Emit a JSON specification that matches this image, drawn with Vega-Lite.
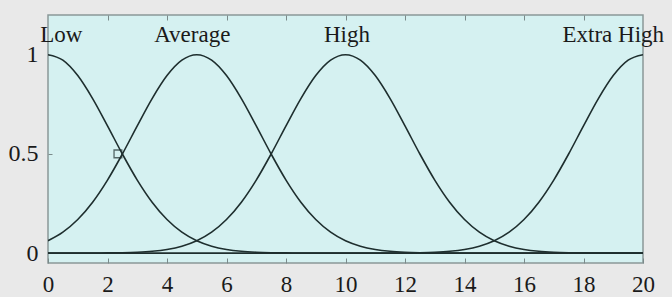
{
  "$schema": "https://vega.github.io/schema/vega-lite/v6.json",
  "width": 595,
  "height": 248,
  "autosize": {"type": "none"},
  "padding": {"left": 48, "top": 15, "right": 29, "bottom": 34},
  "background": "#e9e9e9",
  "config": {
    "view": {"fill": "#d5f1f1", "stroke": "#8a9898", "strokeWidth": 1.5},
    "font": "Liberation Serif"
  },
  "datasets": {
    "mf": [
      {"x": 0, "y": 1, "mf": "Low"}, {"x": 0.5, "y": 0.9726, "mf": "Low"}, {"x": 1, "y": 0.8948, "mf": "Low"}, {"x": 1.5, "y": 0.7788, "mf": "Low"}, {"x": 2, "y": 0.6412, "mf": "Low"}, {"x": 2.5, "y": 0.4994, "mf": "Low"}, {"x": 3, "y": 0.3679, "mf": "Low"}, {"x": 3.5, "y": 0.2564, "mf": "Low"}, {"x": 4, "y": 0.169, "mf": "Low"}, {"x": 4.5, "y": 0.1054, "mf": "Low"}, {"x": 5, "y": 0.0622, "mf": "Low"}, {"x": 5.5, "y": 0.0347, "mf": "Low"}, {"x": 6, "y": 0.0183, "mf": "Low"}, {"x": 6.5, "y": 0.0091, "mf": "Low"}, {"x": 7, "y": 0.0043, "mf": "Low"}, {"x": 7.5, "y": 0.0019, "mf": "Low"}, {"x": 8, "y": 0.0008, "mf": "Low"}, {"x": 8.5, "y": 0.0003, "mf": "Low"}, {"x": 9, "y": 0.0001, "mf": "Low"}, {"x": 10, "y": 0, "mf": "Low"}, {"x": 20, "y": 0, "mf": "Low"},
      {"x": 0, "y": 0.0622, "mf": "Average"}, {"x": 0.5, "y": 0.1054, "mf": "Average"}, {"x": 1, "y": 0.169, "mf": "Average"}, {"x": 1.5, "y": 0.2564, "mf": "Average"}, {"x": 2, "y": 0.3679, "mf": "Average"}, {"x": 2.5, "y": 0.4994, "mf": "Average"}, {"x": 3, "y": 0.6412, "mf": "Average"}, {"x": 3.5, "y": 0.7788, "mf": "Average"}, {"x": 4, "y": 0.8948, "mf": "Average"}, {"x": 4.5, "y": 0.9726, "mf": "Average"}, {"x": 5, "y": 1, "mf": "Average"}, {"x": 5.5, "y": 0.9726, "mf": "Average"}, {"x": 6, "y": 0.8948, "mf": "Average"}, {"x": 6.5, "y": 0.7788, "mf": "Average"}, {"x": 7, "y": 0.6412, "mf": "Average"}, {"x": 7.5, "y": 0.4994, "mf": "Average"}, {"x": 8, "y": 0.3679, "mf": "Average"}, {"x": 8.5, "y": 0.2564, "mf": "Average"}, {"x": 9, "y": 0.169, "mf": "Average"}, {"x": 9.5, "y": 0.1054, "mf": "Average"}, {"x": 10, "y": 0.0622, "mf": "Average"}, {"x": 10.5, "y": 0.0347, "mf": "Average"}, {"x": 11, "y": 0.0183, "mf": "Average"}, {"x": 11.5, "y": 0.0091, "mf": "Average"}, {"x": 12, "y": 0.0043, "mf": "Average"}, {"x": 12.5, "y": 0.0019, "mf": "Average"}, {"x": 13, "y": 0.0008, "mf": "Average"}, {"x": 13.5, "y": 0.0003, "mf": "Average"}, {"x": 14, "y": 0.0001, "mf": "Average"}, {"x": 15, "y": 0, "mf": "Average"}, {"x": 20, "y": 0, "mf": "Average"},
      {"x": 0, "y": 0, "mf": "High"}, {"x": 1, "y": 0.0001, "mf": "High"}, {"x": 1.5, "y": 0.0003, "mf": "High"}, {"x": 2, "y": 0.0008, "mf": "High"}, {"x": 2.5, "y": 0.0019, "mf": "High"}, {"x": 3, "y": 0.0043, "mf": "High"}, {"x": 3.5, "y": 0.0091, "mf": "High"}, {"x": 4, "y": 0.0183, "mf": "High"}, {"x": 4.5, "y": 0.0347, "mf": "High"}, {"x": 5, "y": 0.0622, "mf": "High"}, {"x": 5.5, "y": 0.1054, "mf": "High"}, {"x": 6, "y": 0.169, "mf": "High"}, {"x": 6.5, "y": 0.2564, "mf": "High"}, {"x": 7, "y": 0.3679, "mf": "High"}, {"x": 7.5, "y": 0.4994, "mf": "High"}, {"x": 8, "y": 0.6412, "mf": "High"}, {"x": 8.5, "y": 0.7788, "mf": "High"}, {"x": 9, "y": 0.8948, "mf": "High"}, {"x": 9.5, "y": 0.9726, "mf": "High"}, {"x": 10, "y": 1, "mf": "High"}, {"x": 10.5, "y": 0.9726, "mf": "High"}, {"x": 11, "y": 0.8948, "mf": "High"}, {"x": 11.5, "y": 0.7788, "mf": "High"}, {"x": 12, "y": 0.6412, "mf": "High"}, {"x": 12.5, "y": 0.4994, "mf": "High"}, {"x": 13, "y": 0.3679, "mf": "High"}, {"x": 13.5, "y": 0.2564, "mf": "High"}, {"x": 14, "y": 0.169, "mf": "High"}, {"x": 14.5, "y": 0.1054, "mf": "High"}, {"x": 15, "y": 0.0622, "mf": "High"}, {"x": 15.5, "y": 0.0347, "mf": "High"}, {"x": 16, "y": 0.0183, "mf": "High"}, {"x": 16.5, "y": 0.0091, "mf": "High"}, {"x": 17, "y": 0.0043, "mf": "High"}, {"x": 17.5, "y": 0.0019, "mf": "High"}, {"x": 18, "y": 0.0008, "mf": "High"}, {"x": 18.5, "y": 0.0003, "mf": "High"}, {"x": 19, "y": 0.0001, "mf": "High"}, {"x": 20, "y": 0, "mf": "High"},
      {"x": 0, "y": 0, "mf": "Extra High"}, {"x": 10, "y": 0, "mf": "Extra High"}, {"x": 11, "y": 0.0001, "mf": "Extra High"}, {"x": 11.5, "y": 0.0003, "mf": "Extra High"}, {"x": 12, "y": 0.0008, "mf": "Extra High"}, {"x": 12.5, "y": 0.0019, "mf": "Extra High"}, {"x": 13, "y": 0.0043, "mf": "Extra High"}, {"x": 13.5, "y": 0.0091, "mf": "Extra High"}, {"x": 14, "y": 0.0183, "mf": "Extra High"}, {"x": 14.5, "y": 0.0347, "mf": "Extra High"}, {"x": 15, "y": 0.0622, "mf": "Extra High"}, {"x": 15.5, "y": 0.1054, "mf": "Extra High"}, {"x": 16, "y": 0.169, "mf": "Extra High"}, {"x": 16.5, "y": 0.2564, "mf": "Extra High"}, {"x": 17, "y": 0.3679, "mf": "Extra High"}, {"x": 17.5, "y": 0.4994, "mf": "Extra High"}, {"x": 18, "y": 0.6412, "mf": "Extra High"}, {"x": 18.5, "y": 0.7788, "mf": "Extra High"}, {"x": 19, "y": 0.8948, "mf": "Extra High"}, {"x": 19.5, "y": 0.9726, "mf": "Extra High"}, {"x": 20, "y": 1, "mf": "Extra High"}
    ],
    "labels": [
      {"x": 0.45, "y": 1.1, "mf": "Low"},
      {"x": 4.85, "y": 1.1, "mf": "Average"},
      {"x": 10.05, "y": 1.1, "mf": "High"},
      {"x": 19.0, "y": 1.1, "mf": "Extra High"}
    ],
    "marker": [
      {"x": 2.35, "y": 0.5}
    ]
  },
  "layer": [
    {
      "data": {"name": "mf"},
      "mark": {"type": "line", "interpolate": "monotone", "color": "#1e2e2e", "strokeWidth": 1.6, "clip": true},
      "encoding": {
        "x": {"field": "x", "type": "quantitative", "scale": {"domain": [0, 20], "nice": false, "zero": false},
          "axis": {"title": null, "values": [0, 2, 4, 6, 8, 10, 12, 14, 16, 18, 20], "grid": false, "domain": false, "tickSize": -5, "tickColor": "#7a8a8a", "labelPadding": 15, "labelFontSize": 23, "labelColor": "#1a1a1a", "labelFont": "Liberation Serif", "labelFlush": false}},
        "y": {"field": "y", "type": "quantitative", "scale": {"domain": [-0.05, 1.2], "nice": false, "zero": false},
          "axis": {"title": null, "values": [0, 0.5, 1], "grid": false, "domain": false, "tickSize": -4, "tickColor": "#7a8a8a", "labelPadding": 14, "labelFontSize": 24, "labelColor": "#1a1a1a", "labelFont": "Liberation Serif", "labelFlush": false, "format": "~g"}},
        "detail": {"field": "mf", "type": "nominal"}
      }
    },
    {
      "data": {"name": "marker"},
      "mark": {"type": "square", "size": 60, "filled": false, "color": "#1e2e2e", "strokeWidth": 1.3},
      "encoding": {
        "x": {"field": "x", "type": "quantitative", "axis": null},
        "y": {"field": "y", "type": "quantitative", "axis": null}
      }
    },
    {
      "data": {"name": "labels"},
      "mark": {"type": "text", "fontSize": 23, "color": "#1a1a1a", "align": "center", "baseline": "middle", "font": "Liberation Serif"},
      "encoding": {
        "x": {"field": "x", "type": "quantitative",
          "axis": {"orient": "top", "title": null, "labels": false, "values": [2, 4, 6, 8, 10, 12, 14, 16, 18], "grid": false, "domain": false, "tickSize": -5, "tickColor": "#7a8a8a"}},
        "y": {"field": "y", "type": "quantitative", "axis": null},
        "text": {"field": "mf", "type": "nominal"}
      }
    }
  ],
  "resolve": {"axis": {"x": "independent", "y": "independent"}}
}
